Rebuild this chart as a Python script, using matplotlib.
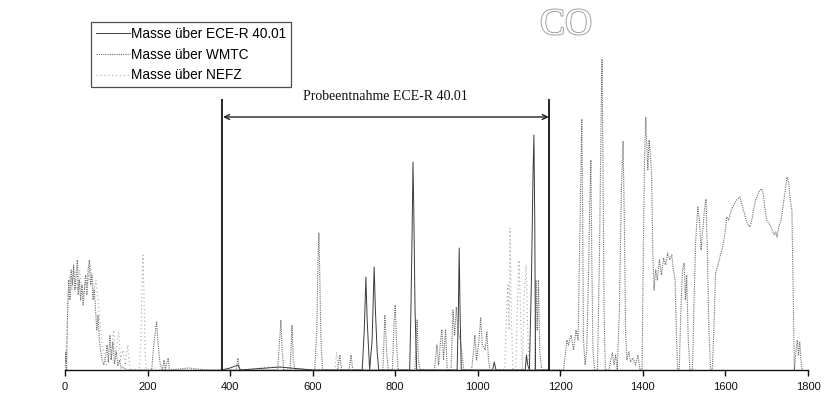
import matplotlib
matplotlib.use("Agg")
import matplotlib.pyplot as plt
import matplotlib.patheffects as pe

# CO mass signal (arbitrary units) over cycle time in seconds, as (t, value) vertices
wmtc_pts = [
    (0, 0), (2, 18), (4, 0), (6, 55), (9, 90), (12, 70), (15, 100), (18, 85), (21, 105),
    (24, 80), (27, 95), (30, 110), (32, 75), (35, 90), (38, 70), (41, 85), (44, 65),
    (47, 80), (50, 95), (53, 75), (56, 100), (59, 110), (62, 85), (65, 95), (68, 70),
    (71, 80), (74, 60), (77, 40), (80, 55), (83, 30), (86, 20), (90, 10), (94, 5),
    (98, 12), (102, 25), (105, 8), (109, 35), (112, 10), (116, 28), (120, 6), (124, 18),
    (128, 4), (132, 10), (136, 2), (140, 3), (150, 0), (210, 0), (214, 20), (218, 35),
    (222, 48), (225, 30), (228, 15), (231, 5), (236, 0), (240, 10), (243, 0), (250, 12),
    (253, 0), (300, 2), (340, 0), (380, 0),
    (415, 0), (419, 12), (423, 0), (515, 0), (520, 30), (523, 50), (526, 20), (530, 0),
    (545, 0), (548, 25), (550, 45), (553, 10), (557, 0), (605, 0), (610, 40), (613, 110),
    (615, 137), (617, 100), (620, 30), (624, 0), (660, 0), (666, 15), (670, 0), (688, 0),
    (693, 15), (697, 0), (770, 0), (775, 55), (779, 20), (783, 0), (793, 0), (797, 45),
    (800, 65), (803, 30), (807, 0), (848, 0), (853, 50), (856, 10), (860, 0), (895, 0),
    (901, 25), (905, 5), (910, 30), (913, 40), (917, 10), (922, 40), (926, 0), (935, 0),
    (940, 60), (944, 35), (948, 63), (952, 40), (958, 30), (962, 15), (966, 0), (985, 0),
    (990, 20), (993, 35), (997, 10), (1003, 30), (1007, 52), (1011, 25), (1018, 20),
    (1022, 38), (1026, 10), (1030, 0), (1138, 0), (1141, 90), (1144, 40), (1147, 90),
    (1150, 20), (1155, 0), (1200, 0),
    (1208, 0), (1212, 15), (1216, 30), (1220, 25), (1226, 35), (1232, 20), (1238, 40),
    (1243, 30), (1247, 130), (1250, 200), (1252, 251), (1254, 160), (1256, 30), (1260, 5),
    (1264, 20), (1268, 90), (1272, 180), (1274, 210), (1276, 120), (1279, 20), (1283, 0),
    (1290, 0), (1295, 120), (1299, 260), (1301, 311), (1303, 220), (1306, 60), (1309, 0),
    (1318, 0), (1322, 10), (1326, 17), (1330, 5), (1334, 15), (1338, 0), (1343, 60),
    (1348, 180), (1352, 229), (1355, 150), (1358, 40), (1361, 10), (1366, 18), (1370, 8),
    (1376, 12), (1382, 5), (1388, 15), (1393, 0), (1398, 0), (1401, 120), (1404, 210),
    (1407, 253), (1409, 230), (1412, 200), (1415, 230), (1418, 215), (1421, 197),
    (1424, 120), (1427, 80), (1431, 100), (1435, 90), (1440, 110), (1445, 95), (1450, 112),
    (1455, 105), (1460, 117), (1465, 110), (1470, 115), (1474, 100), (1478, 90),
    (1481, 40), (1484, 0), (1488, 0), (1492, 60), (1496, 100), (1500, 107), (1503, 70),
    (1506, 95), (1510, 30), (1514, 0), (1520, 0), (1524, 70), (1528, 130), (1533, 163),
    (1537, 150), (1541, 120), (1545, 140), (1549, 160), (1553, 171), (1556, 120),
    (1560, 40), (1564, 0), (1568, 0), (1572, 40), (1576, 97), (1582, 105), (1588, 115),
    (1594, 125), (1600, 140), (1603, 153), (1608, 150), (1614, 160), (1620, 165),
    (1627, 170), (1632, 172), (1635, 173), (1640, 165), (1645, 158), (1650, 150),
    (1655, 145), (1659, 143), (1664, 150), (1668, 160), (1673, 170), (1678, 175),
    (1683, 180), (1688, 181), (1692, 175), (1696, 160), (1700, 150), (1703, 148),
    (1708, 145), (1713, 140), (1718, 135), (1722, 138), (1725, 133), (1730, 145),
    (1735, 150), (1740, 165), (1745, 180), (1749, 193), (1753, 188), (1757, 170),
    (1761, 160), (1764, 80), (1767, 0), (1771, 20), (1774, 30), (1777, 15), (1780, 28),
    (1783, 10), (1786, 0),
]

nefz_pts = [
    (0, 0), (5, 40), (8, 80), (12, 95), (16, 80), (20, 100), (25, 90), (30, 80),
    (35, 100), (40, 85), (45, 75), (50, 90), (55, 85), (60, 105), (65, 95), (70, 80),
    (75, 90), (80, 70), (85, 45), (90, 25), (95, 15), (100, 5), (110, 10), (118, 40),
    (122, 15), (130, 38), (135, 10), (140, 20), (146, 5), (152, 25), (156, 5), (160, 0),
    (180, 0), (184, 30), (187, 100), (189, 115), (191, 80), (194, 20), (197, 0),
    (300, 0), (420, 0), (500, 3), (600, 0), (654, 0), (658, 18), (662, 0), (1060, 0),
    (1065, 0), (1070, 60), (1073, 85), (1076, 40), (1078, 142), (1081, 60), (1085, 0),
    (1092, 0), (1097, 80), (1100, 110), (1104, 50), (1108, 0), (1112, 70), (1117, 105),
    (1121, 40), (1125, 0), (1180, 0),
]

ece_pts = [
    (380, 0), (400, 2), (419, 5), (425, 0), (520, 3), (600, 0), (720, 0), (725, 40),
    (729, 93), (732, 50), (738, 0), (744, 30), (749, 103), (752, 60), (756, 20), (760, 0),
    (835, 0), (838, 60), (841, 140), (843, 208), (845, 160), (848, 60), (852, 0),
    (950, 0), (953, 60), (955, 122), (957, 60), (960, 0), (1036, 0), (1040, 8),
    (1044, 0), (1115, 0), (1118, 15), (1121, 5), (1125, 0), (1130, 90), (1134, 200),
    (1136, 235), (1138, 150), (1140, 0), (1172, 0),
]

series_labels = ["Masse über ECE-R 40.01", "Masse über WMTC", "Masse über NEFZ"]
x_ticks = [0, 200, 400, 600, 800, 1000, 1200, 1400, 1600, 1800]
sampling_window = [380, 1172]
window_label = "Probeentnahme ECE-R 40.01"
title = "CO"

W, H = 825, 398
fig = plt.figure(figsize=(W / 100, H / 100), dpi=100)
ax = fig.add_axes([65 / W, 28 / H, 743 / W, 350 / H])


def split(pts):
    return [p[0] for p in pts], [p[1] for p in pts]


t, v = split(ece_pts)
h_ece, = ax.plot(t, v, color="#3c3c3c", lw=0.7, ls="-", label=series_labels[0], zorder=3)
t, v = split(wmtc_pts)
h_wmtc, = ax.plot(t, v, color="#6e6e6e", lw=0.8, ls=(0, (1, 1)), label=series_labels[1], zorder=2)
t, v = split(nefz_pts)
h_nefz, = ax.plot(t, v, color="#a8a8a8", lw=0.8, ls=(0, (1, 2.5)), label=series_labels[2], zorder=1)

# sampling window markers
ax.vlines(sampling_window, 0, 271, color="black", lw=1.2, zorder=4)
ax.annotate("", xy=(sampling_window[0] + 3, 253), xytext=(sampling_window[1], 253),
            arrowprops=dict(arrowstyle="<->", color="#222222", lw=1.0,
                            shrinkA=0, shrinkB=0, mutation_scale=9))
ax.text(sum(sampling_window) / 2, 273, window_label, ha="center", va="center",
        family="Liberation Serif", fontsize=10, color="#111111")

ax.set_xlim(0, 1800)
ax.set_ylim(0, 350)
ax.set_xticks(x_ticks)
ax.set_xticklabels([str(x) for x in x_ticks], family="Liberation Sans", fontsize=8)
ax.tick_params(axis="x", direction="out", length=4, width=1, pad=5, colors="#111111")
ax.set_yticks([])
for s in ("left", "top", "right"):
    ax.spines[s].set_visible(False)
ax.spines["bottom"].set_color("#111111")
ax.spines["bottom"].set_linewidth(1.0)
ax.patch.set_alpha(0)

leg = fig.legend(handles=[h_ece, h_wmtc, h_nefz], loc="upper left",
                 bbox_to_anchor=(91 / W, 1 - 22 / H), borderaxespad=0,
                 fancybox=False, frameon=True, handlelength=2.5, handletextpad=0.1,
                 labelspacing=0.5, borderpad=0.35,
                 prop={"family": "Liberation Sans", "size": 9.8})
leg.get_frame().set_edgecolor("#222222")
leg.get_frame().set_linewidth(0.9)

fig.text(566 / W, 1 - 25 / H, title, ha="center", va="center",
         family="Liberation Serif", fontsize=27, color="white",
         path_effects=[pe.Stroke(linewidth=1.3, foreground="#9a9a9a"), pe.Normal()])

fig.savefig("out.png", dpi=100, facecolor="white")
